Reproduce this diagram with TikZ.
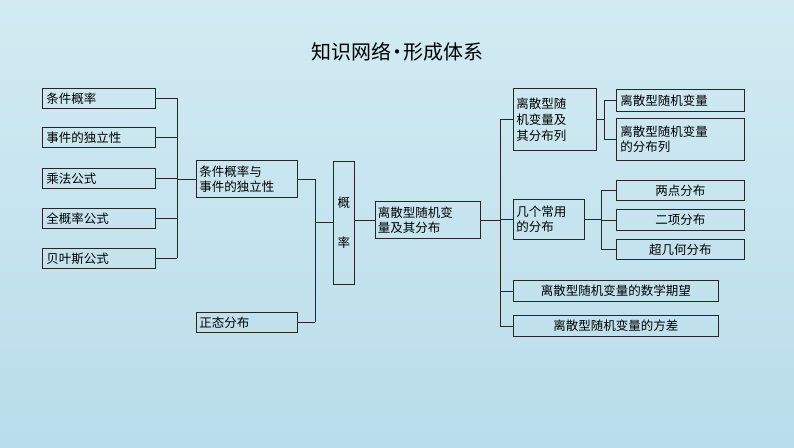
\documentclass[tikz,border=0pt]{standalone}
\usepackage{fontspec}
\setmainfont{Noto Sans CJK SC}
\definecolor{bgtop}{HTML}{D2EBF3}
\definecolor{bgbot}{HTML}{B9DDEA}
\begin{document}
\begin{tikzpicture}[x=1pt,y=-1pt,
  bx/.style={draw=black!85,line width=0.8pt,inner sep=2pt,font=\fontsize{12.5}{14}\selectfont,align=left},
  ln/.style={draw=black!85,line width=0.8pt}]
\fill[top color=bgtop, bottom color=bgbot] (0,0) rectangle (794,447);
\useasboundingbox (0,0) rectangle (794,447);
\node[font=\fontsize{20}{22}\selectfont] (t) at (397,52) {知识网络{\kern-4pt}·{\kern-4pt}形成体系};
\newcommand{\lb}[4]{\node[bx,minimum width=113pt,minimum height=20pt,anchor=north west,align=left,text width=105pt] (#1) at (#2,#3) {#4};}
\lb{a1}{42}{88}{条件概率}
\lb{a2}{42}{127}{事件的独立性}
\lb{a3}{42}{168}{乘法公式}
\lb{a4}{42}{208}{全概率公式}
\lb{a5}{42}{248}{贝叶斯公式}
\node[bx,minimum width=101pt,minimum height=37pt,anchor=north west,text width=95pt,font=\fontsize{12.5}{15}\selectfont] (b1) at (196,160) {条件概率与\\事件的独立性};
\node[bx,minimum width=101pt,minimum height=20pt,anchor=north west,text width=95pt] (b2) at (196,312) {正态分布};
\node[bx,minimum width=21pt,minimum height=123pt,anchor=north west,text width=13pt,align=center,font=\fontsize{12.5}{40}\selectfont] (c) at (333,161) {概\\率};
\node[bx,minimum width=105pt,minimum height=37pt,anchor=north west,text width=100pt,font=\fontsize{12.5}{15}\selectfont] (d) at (375,201) {离散型随机变\\量及其分布};
\node[bx,minimum width=83pt,minimum height=62pt,anchor=north west,text width=77pt,font=\fontsize{12.5}{16}\selectfont] (e1) at (513,88) {离散型随\\机变量及\\其分布列};
\node[bx,minimum width=71pt,minimum height=40pt,anchor=north west,text width=65pt,font=\fontsize{12.5}{15}\selectfont] (e2) at (513,199) {几个常用\\的分布};
\node[bx,minimum width=205pt,minimum height=21pt,anchor=north west,text width=200pt,align=center] (e3) at (513,280) {离散型随机变量的数学期望};
\node[bx,minimum width=205pt,minimum height=21pt,anchor=north west,text width=200pt,align=center] (e4) at (513,315) {离散型随机变量的方差};
\node[bx,minimum width=128pt,minimum height=22pt,anchor=north west,text width=120pt] (f1) at (616,89) {离散型随机变量};
\node[bx,minimum width=128pt,minimum height=42pt,anchor=north west,text width=120pt,font=\fontsize{12.5}{15}\selectfont] (f2) at (616,118) {离散型随机变量\\的分布列};
\node[bx,minimum width=128pt,minimum height=20pt,anchor=north west,text width=120pt,align=center] (g1) at (616,180) {两点分布};
\node[bx,minimum width=128pt,minimum height=21pt,anchor=north west,text width=120pt,align=center] (g2) at (616,209) {二项分布};
\node[bx,minimum width=128pt,minimum height=20pt,anchor=north west,text width=120pt,align=center] (g3) at (616,239) {超几何分布};
\coordinate (L1) at (177,0);
\foreach \n in {a1,a2,a3,a4,a5} \draw[ln] (\n.east) -- (\n.east -| L1);
\draw[ln] (a1.east -| L1) -- (a5.east -| L1);
\draw[ln] (b1.west -| L1) -- (b1.west);
\coordinate (L2) at (315,0);
\draw[ln] (b1.east) -- (b1.east -| L2);
\draw[ln] (b2.east) -- (b2.east -| L2);
\draw[ln] (b1.east -| L2) -- (b2.east -| L2);
\draw[ln] (c.west |- 0,222) -- (315,222);
\draw[ln] (c.east |- d.west) -- (d.west);
\coordinate (L3) at (500,0);
\draw[ln] (d.east) -- (d.east -| L3);
\foreach \n in {e1,e2,e3,e4} \draw[ln] (\n.west -| L3) -- (\n.west);
\draw[ln] (e1.west -| L3) -- (e4.west -| L3);
\coordinate (L4) at (604,0);
\draw[ln] (e1.east) -- (e1.east -| L4);
\foreach \n in {f1,f2} \draw[ln] (\n.west -| L4) -- (\n.west);
\draw[ln] (f1.west -| L4) -- (f2.west -| L4);
\coordinate (L5) at (601,0);
\draw[ln] (e2.east) -- (e2.east -| L5);
\foreach \n in {g1,g2,g3} \draw[ln] (\n.west -| L5) -- (\n.west);
\draw[ln] (g1.west -| L5) -- (g3.west -| L5);
\end{tikzpicture}
\end{document}
